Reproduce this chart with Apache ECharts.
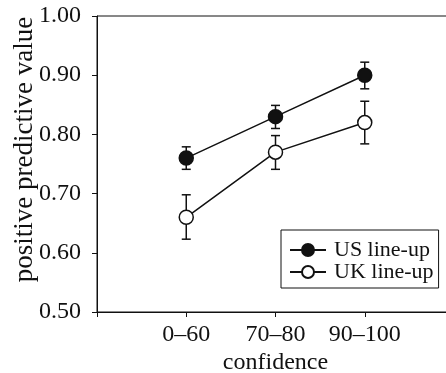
<!DOCTYPE html>
<html><head><meta charset="utf-8">
<script src="https://cdn.jsdelivr.net/npm/echarts@6/dist/echarts.min.js"></script>
<style>html,body{margin:0;padding:0;background:#fff}#c{width:446px;height:373px}</style>
</head><body><div id="c"></div>
<script>
const categories = ['0–60', '70–80', '90–100'];
const usValues = [0.76, 0.83, 0.90];
const usErrLow = [0.741, 0.810, 0.877];
const usErrHigh = [0.779, 0.849, 0.922];
const ukValues = [0.66, 0.77, 0.82];
const ukErrLow = [0.623, 0.741, 0.784];
const ukErrHigh = [0.698, 0.798, 0.856];
const yTicks = [0.5, 0.6, 0.7, 0.8, 0.9, 1.0];

const FONT = '"Liberation Serif", "Times New Roman", Times, serif';
const FS = 24;
const chart = echarts.init(document.getElementById('c'));

function errData(lo, hi) { return categories.map((c, i) => [i + 1, lo[i], hi[i]]); }
function errRender(params, api) {
  const x = api.value(0);
  const lo = api.coord([x, api.value(1)]);
  const hi = api.coord([x, api.value(2)]);
  const w = 4.5;
  const st = { stroke: '#111', lineWidth: 1.5 };
  return { type: 'group', children: [
    { type: 'line', shape: { x1: lo[0], y1: lo[1], x2: hi[0], y2: hi[1] }, style: st },
    { type: 'line', shape: { x1: lo[0] - w, y1: lo[1], x2: lo[0] + w, y2: lo[1] }, style: st },
    { type: 'line', shape: { x1: hi[0] - w, y1: hi[1], x2: hi[0] + w, y2: hi[1] }, style: st }
  ]};
}

chart.setOption({
  animation: false,
  backgroundColor: '#fff',
  grid: { left: 97, top: 16, width: 357, height: 296, show: true, borderColor: '#111', borderWidth: 1,
          containLabel: false, outerBoundsMode: 'none' },
  legend: {
    left: 281, top: 230, orient: 'vertical',
    padding: [9, 5, 5, 8], itemGap: 0, itemWidth: 36, itemHeight: 15,
    borderColor: '#111', borderWidth: 1,
    textStyle: { fontFamily: FONT, fontSize: 22, color: '#111', padding: [0, 0, 0, 3] },
    data: ['US line-up', 'UK line-up']
  },
  xAxis: {
    type: 'value', min: 0, max: 4, interval: 1,
    name: 'confidence', nameLocation: 'middle', nameGap: 39, nameMoveOverlap: false,
    nameTextStyle: { fontFamily: FONT, fontSize: FS, color: '#111' },
    axisLine: { lineStyle: { color: '#111', width: 1 } },
    axisTick: { show: true, length: 5, lineStyle: { color: '#111' } },
    axisLabel: { fontFamily: FONT, fontSize: FS, color: '#111', margin: 11,
      formatter: v => (v >= 1 && v <= categories.length) ? categories[v - 1] : '' },
    splitLine: { show: false }
  },
  yAxis: {
    type: 'value', min: 0.5, max: 1.0, interval: 0.1,
    name: 'positive predictive value', nameLocation: 'middle', nameGap: 59, nameMoveOverlap: false,
    nameTextStyle: { fontFamily: FONT, fontSize: 27, color: '#111', padding: [0, 0, 0, 29] },
    axisLine: { show: true, lineStyle: { color: '#111', width: 1 } },
    axisTick: { show: true, length: 5, lineStyle: { color: '#111' } },
    axisLabel: { fontFamily: FONT, fontSize: FS, color: '#111', margin: 16,
      formatter: v => v.toFixed(2) },
    splitLine: { show: false }
  },
  series: [
    { type: 'custom', name: 'usErr', renderItem: errRender, data: errData(usErrLow, usErrHigh), z: 1, silent: true },
    { type: 'custom', name: 'ukErr', renderItem: errRender, data: errData(ukErrLow, ukErrHigh), z: 1, silent: true },
    { type: 'line', name: 'US line-up', data: usValues.map((v, i) => [i + 1, v]), z: 3,
      symbol: 'circle', symbolSize: 14,
      lineStyle: { color: '#111', width: 1.5 },
      itemStyle: { color: '#111', borderColor: '#111', borderWidth: 1.5 } },
    { type: 'line', name: 'UK line-up', data: ukValues.map((v, i) => [i + 1, v]), z: 3,
      symbol: 'circle', symbolSize: 14,
      lineStyle: { color: '#111', width: 1.5 },
      itemStyle: { color: '#fff', borderColor: '#111', borderWidth: 1.5 } }
  ]
});
</script></body></html>
